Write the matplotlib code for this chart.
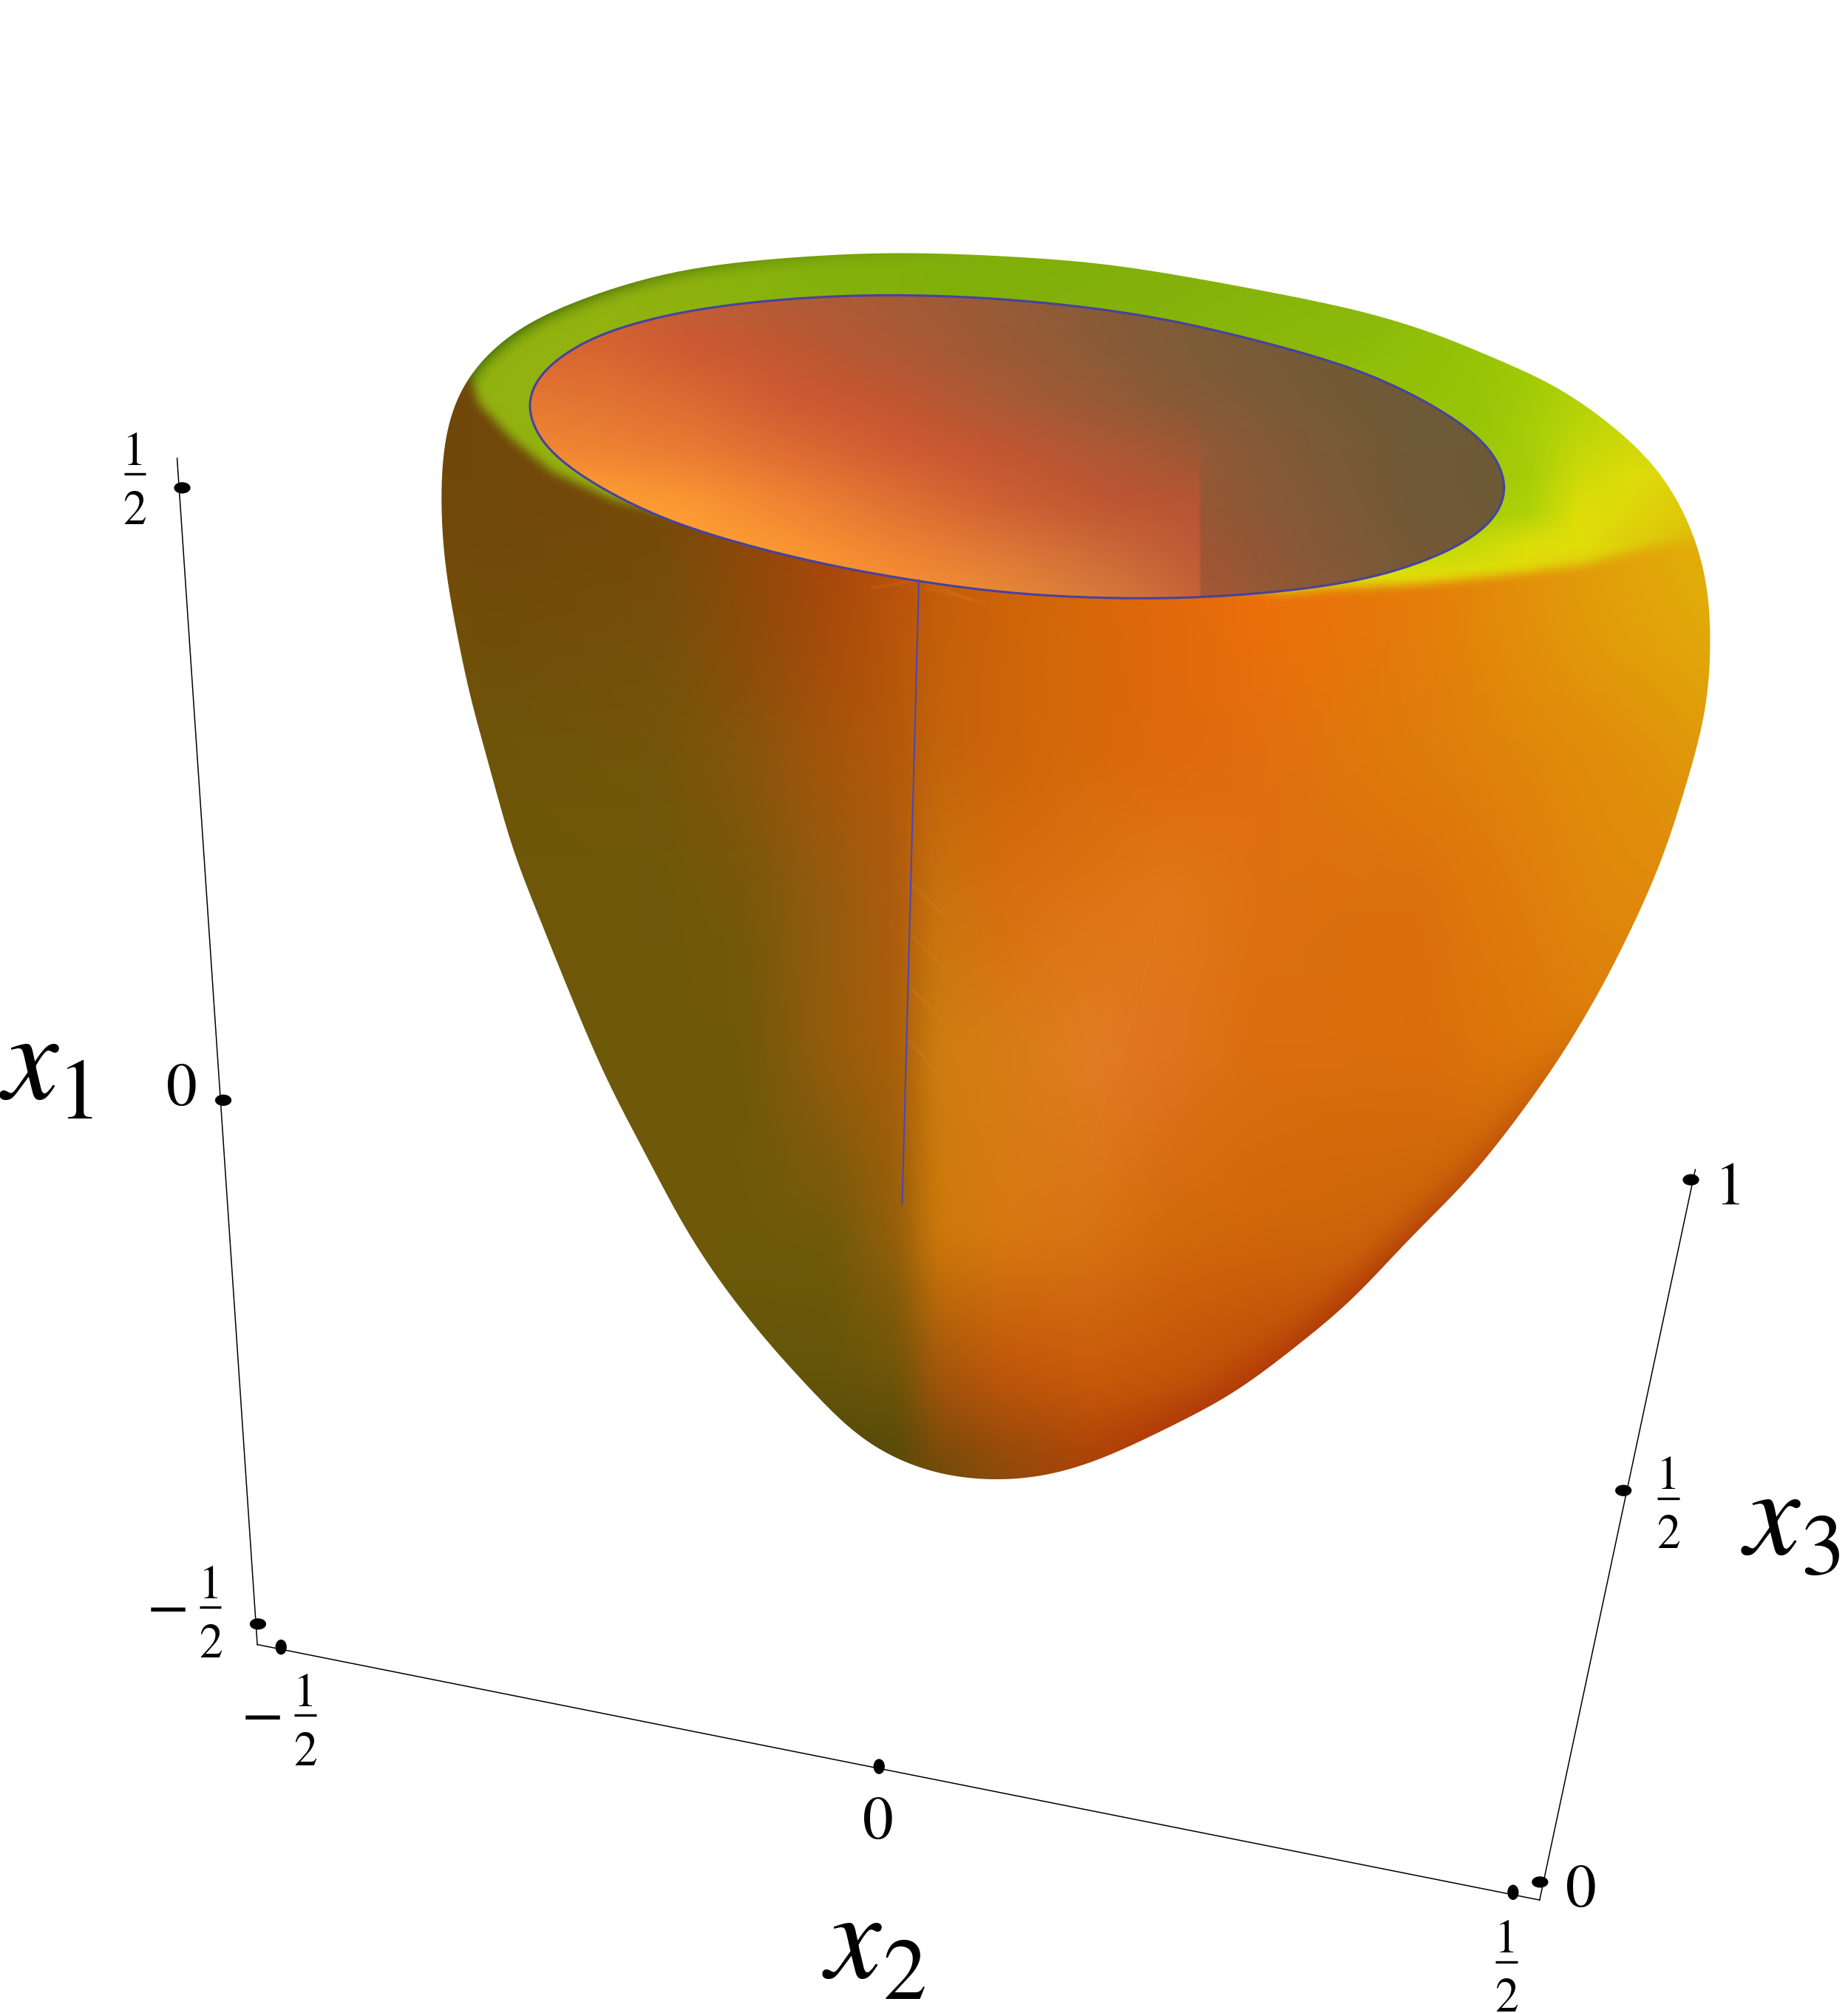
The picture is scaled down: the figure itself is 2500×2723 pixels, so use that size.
import numpy as np
import matplotlib
matplotlib.use("Agg")
import matplotlib.pyplot as plt
from matplotlib.path import Path
from matplotlib.patches import Ellipse, PathPatch

# ---- outline of the surface (1440 x 1568 frame)
outer_x = [611,693,790,885,1037,1110,1162,1213,1257,1290,1312,1328,1333,1331,1324,1297,1269,1242,1206,1150,1101,1058,1037,993,955,890,852,814,783,744,711,685,659,643,610,572,537,502,471,440,422,400,383,365,352,347,344,344,349,361,380,405,438,476,515,553]
outer_y = [201,197,200,209,237,257,278,301,332,363,398,442,488,539,576,664,728,780,838,912,962,1008,1027,1062,1089,1122,1139,1150,1153,1151,1142,1130,1111,1094,1059,1013,962,897,837,764,719,663,603,537,472,443,405,367,328,298,275,255,239,225,214,207]
bowl_x = [1172,1159,1121,1061,982,891,792,694,603,524,464,426,413,426,464,524,603,694,792,891,982,1061,1121,1159]
bowl_y = [380,408,432,451,462,466,462,449,430,406,377,347,316,288,263,245,234,230,234,246,266,290,319,349]
lip_x = [330,1345,1345,1279,1235,1169,1103,1037,1000,800,600,476,430,399,374,365,330]
lip_y = [180,180,415,428,440,448,455,458,462,440,420,388,367,342,315,292,270]

# ---- colours sampled over the surface
body_cols = [340,383,515,581,648,700,730,780,850,912,978,1110,1242,1340]
body_rows = [400,493,587,700,817,964,1074,1129,1155]
body_rgb = [
 [(112,72,10),(112,72,10),(118,74,10),(140,72,10),(168,70,12),(185,80,10),(195,90,10),(210,95,10),(220,100,10),(230,105,10),(238,110,10),(230,125,10),(226,160,10),(225,180,10)],
 [(115,80,10),(112,78,10),(118,80,10),(140,75,10),(168,75,10),(185,85,10),(195,95,10),(205,100,10),(215,105,10),(225,105,10),(235,110,10),(228,125,10),(225,155,10),(225,170,10)],
 [(110,85,10),(110,85,10),(115,85,10),(135,85,12),(165,85,10),(180,90,10),(195,100,10),(205,100,10),(215,105,10),(222,105,10),(225,110,15),(222,125,10),(225,140,10),(225,155,10)],
 [(110,88,10),(110,88,10),(110,88,10),(120,88,10),(150,92,15),(175,92,15),(200,115,15),(215,110,15),(222,115,20),(225,120,25),(222,112,15),(220,112,12),(225,135,12),(225,140,12)],
 [(110,88,10),(110,88,10),(110,88,10),(112,88,10),(150,92,12),(170,95,10),(205,125,15),(215,125,20),(225,125,35),(225,115,30),(220,110,15),(220,110,10),(220,125,10),(220,130,10)],
 [(110,90,10),(110,90,10),(110,90,10),(110,90,10),(112,90,10),(150,95,10),(205,120,10),(215,120,15),(215,115,20),(210,105,12),(208,102,10),(200,100,10),(200,100,10),(200,100,10)],
 [(100,85,10),(100,85,10),(100,85,10),(100,85,10),(100,85,10),(110,85,10),(160,85,10),(190,85,10),(200,90,10),(195,85,8),(190,75,8),(185,70,8),(175,60,8),(175,60,8)],
 [(85,75,10),(85,75,10),(85,75,10),(85,75,10),(85,75,10),(88,75,10),(125,75,10),(150,75,10),(175,70,8),(175,60,8),(170,58,8),(170,58,8),(170,58,8),(170,58,8)],
 [(85,75,10),(85,75,10),(85,75,10),(85,75,10),(85,75,10),(88,75,10),(110,75,10),(140,75,10),(165,70,8),(170,60,8),(170,58,8),(170,58,8),(170,58,8),(170,58,8)],
]
lip_cols = [340,400,480,600,750,900,1050,1100,1150,1190,1230,1270,1340]
lip_rows = [195,260,330,370,400,425,450]
lip_rgb = [
 [(145,178,15),(145,178,15),(145,178,15),(135,178,12),(128,175,10),(130,176,10),(135,180,10),(140,185,10),(145,190,10),(150,195,5),(155,198,5),(160,200,5),(165,205,5)],
 [(145,178,15),(145,178,15),(145,178,15),(138,178,12),(130,175,10),(135,180,10),(140,185,10),(145,190,10),(150,195,5),(155,200,5),(165,205,5),(175,208,5),(185,212,5)],
 [(145,178,15),(145,178,15),(150,180,15),(150,180,10),(150,185,10),(150,190,10),(150,195,5),(150,195,5),(152,197,8),(165,205,8),(185,212,8),(200,215,8),(205,210,8)],
 [(145,178,15),(145,178,15),(150,180,15),(150,185,10),(152,190,10),(155,195,10),(155,198,8),(155,198,8),(160,200,8),(165,205,8),(205,218,8),(222,220,10),(222,205,10)],
 [(145,178,15),(145,178,15),(150,180,15),(150,185,10),(155,190,10),(160,195,10),(160,200,8),(165,203,8),(165,205,8),(175,210,8),(222,222,10),(222,215,10),(222,190,10)],
 [(145,178,15),(145,178,15),(150,180,15),(160,190,10),(170,195,10),(170,205,10),(175,210,8),(190,215,8),(200,218,8),(222,222,10),(225,222,10),(222,205,10),(222,180,10)],
 [(145,178,15),(145,178,15),(150,180,15),(170,190,10),(180,200,10),(190,210,10),(220,222,10),(225,222,10),(226,222,10),(226,218,10),(225,200,10),(225,185,10),(225,175,10)],
]
bowl_cols = [413,470,540,620,700,780,860,934,936,1020,1100,1175]
bowl_rows = [230,270,310,350,390,430,470]
bowl_rgb = [
 [(205,95,50),(205,95,50),(190,95,53),(175,92,55),(165,90,55),(150,92,55),(135,92,55),(125,92,55),(125,92,55),(115,90,55),(110,90,55),(110,90,55)],
 [(215,100,50),(215,100,50),(205,88,50),(190,88,50),(172,90,52),(155,90,55),(138,92,55),(125,92,55),(125,92,55),(115,90,55),(110,90,55),(110,90,55)],
 [(228,120,50),(225,115,50),(218,105,50),(205,88,50),(192,86,50),(170,90,53),(150,90,55),(132,90,55),(132,90,55),(118,90,55),(110,90,55),(110,90,55)],
 [(240,135,50),(238,130,50),(232,122,50),(222,105,50),(208,90,50),(193,85,50),(175,88,52),(155,88,52),(148,90,55),(125,90,55),(112,90,55),(110,90,55)],
 [(255,160,50),(255,160,50),(250,150,50),(238,130,50),(222,112,50),(205,95,50),(190,85,50),(182,85,50),(150,88,52),(130,90,55),(112,90,55),(110,90,55)],
 [(255,165,50),(255,165,50),(255,165,50),(250,150,50),(238,132,50),(222,120,55),(205,105,55),(190,90,55),(160,85,52),(135,88,55),(118,90,55),(110,90,55)],
 [(255,165,50),(255,165,50),(255,165,50),(255,160,50),(250,150,50),(235,140,55),(215,125,60),(200,100,55),(165,88,52),(140,90,55),(120,90,55),(110,90,55)],
]
seam_x = [716,703]
seam_y = [452,938]
ripple_x = [[680,716],[716,755],[722,768],[712,735],[712,738],[710,735],[708,730]]
ripple_y = [[458,452],[452,466],[458,470],[690,712],[730,755],[770,795],[810,835]]
crease_x = [905,880,850]
crease_y = [715,800,890]

# ---- axes frame
axis_x1_x = [138,200.5]; axis_x1_y = [357,1281]
axis_x2_x = [200.5,1199.7]; axis_x2_y = [1281,1480]
axis_x3_x = [1199.7,1321]; axis_x3_y = [1480,911]
ticks_tall_x = [219,685,1179]; ticks_tall_y = [1283,1376,1474]
ticks_wide_x = [142,174,201,1200,1265,1317.6]; ticks_wide_y = [380,857,1265,1466,1161,919]

W, H = 1440, 1568
SERIF = "STIXGeneral"


def smooth(xs, ys, n=14):
    p = np.column_stack([xs, ys]).astype(float)
    out = []
    m = len(p)
    for i in range(m):
        p0, p1, p2, p3 = p[(i-1) % m], p[i], p[(i+1) % m], p[(i+2) % m]
        for t in np.linspace(0, 1, n, endpoint=False):
            out.append(0.5*((2*p1)+(p2-p0)*t+(2*p0-5*p1+4*p2-p3)*t**2+(3*p1-p0-3*p2+p3)*t**3))
    out = np.array(out)
    return np.vstack([out, out[:1]])


def relax(curve, step=2.0, half=12, passes=2):
    s = np.r_[0, np.cumsum(np.hypot(*np.diff(curve, axis=0).T))]
    t = np.arange(0, s[-1], step)
    pts = np.column_stack([np.interp(t, s, curve[:, 0]), np.interp(t, s, curve[:, 1])])
    k = np.ones(2*half+1)/(2*half+1)
    for _ in range(passes):
        wrapped = np.vstack([pts[-half:], pts, pts[:half]])
        pts = np.column_stack([np.convolve(wrapped[:, 0], k, "valid"), np.convolve(wrapped[:, 1], k, "valid")])
    return np.vstack([pts, pts[:1]])


def field(cols, rows, rgb, xx, yy):
    g = np.array(rgb, float)
    a = np.stack([np.stack([np.interp(xx, cols, g[r, :, c]) for r in range(len(rows))]) for c in range(3)], axis=-1)
    return np.stack([np.stack([np.interp(yy, rows, a[:, j, c]) for j in range(len(xx))], axis=1) for c in range(3)], axis=-1) / 255.0


def box(a, r, axis):
    pad = [(0, 0), (0, 0)]
    pad[axis] = (r+1, r)
    c = np.cumsum(np.pad(a, pad, mode="edge"), axis=axis)
    if axis == 0:
        return (c[2*r+1:, :] - c[:-(2*r+1), :])/(2*r+1)
    return (c[:, 2*r+1:] - c[:, :-(2*r+1)])/(2*r+1)


def blur(a, ry, rx, passes=2):
    for _ in range(passes):
        a = box(box(a, ry, 0), rx, 1)
    return a


xx = np.arange(0, W, 1.0) + 0.5
yy = np.arange(0, H, 1.0) + 0.5
X, Y = np.meshgrid(xx, yy)
grid = np.column_stack([X.ravel(), Y.ravel()])

outer = relax(smooth(outer_x, outer_y))
bowl_pts = smooth(bowl_x, bowl_y)
outer_mask = Path(outer).contains_points(grid).reshape(X.shape).astype(float)

body = field(body_cols, body_rows, body_rgb, xx, yy)
for c in range(3):
    body[:, :, c] = blur(body[:, :, c], 14, 7)
lip = field(lip_cols, lip_rows, lip_rgb, xx, yy)
bowl = field(bowl_cols, bowl_rows, bowl_rgb, xx, yy)
for c in range(3):
    bowl[:, :, c] = box(box(bowl[:, :, c], 10, 0), 8, 0)

# darker band along the silhouette: left part of the lip, lower right of the body
edge_lip = 1 - blur(outer_mask, 7, 7)
w_lip = np.clip(2*edge_lip, 0, 1)*np.clip((760-X)/350, 0, 1)
edge_low = 1 - blur(outer_mask, 18, 18)
w_low = np.clip(2*edge_low, 0, 1)*np.clip((Y-780)/220, 0, 1)*np.clip((X-800)/120, 0, 1)
dark_lip = np.array([85, 125, 10])/255
dark_low = np.array([178, 60, 8])/255
lip = lip*(1-w_lip[..., None]) + dark_lip*w_lip[..., None]
body = body*(1-0.9*w_low[..., None]) + dark_low*0.9*w_low[..., None]

lip_path = Path(np.column_stack([lip_x + lip_x[:1], lip_y + lip_y[:1]]))
mask = lip_path.contains_points(grid).reshape(X.shape).astype(float)
mask = blur(mask, 4, 4)
surface = body*(1-mask[..., None]) + lip*mask[..., None]

fig = plt.figure(figsize=(25, 27.23), dpi=100, facecolor="white")
ax = fig.add_axes([0, 0, 1, 1])
ax.set_xlim(0, W)
ax.set_ylim(H, 0)
ax.axis("off")

im = ax.imshow(surface, extent=(0, W, H, 0), interpolation="bilinear", aspect="auto", zorder=2)
im.set_clip_path(PathPatch(Path(outer), transform=ax.transData))
im2 = ax.imshow(bowl, extent=(0, W, H, 0), interpolation="bilinear", aspect="auto", zorder=3)
im2.set_clip_path(PathPatch(Path(bowl_pts), transform=ax.transData))
ax.set_xlim(0, W)
ax.set_ylim(H, 0)

for rx, ry in zip(ripple_x, ripple_y):
    ax.plot(rx, ry, color="#e49a30", lw=3.0, alpha=0.13, zorder=2.5)
ax.plot(crease_x, crease_y, color="#e88a30", lw=1.2, alpha=0.25, zorder=2.5)
ax.plot(bowl_pts[:, 0], bowl_pts[:, 1], color="#46429f", lw=2.2, zorder=4)
ax.plot(seam_x, seam_y, color="#4a48b4", lw=1.5, zorder=4)

for lx, ly in [(axis_x1_x, axis_x1_y), (axis_x2_x, axis_x2_y), (axis_x3_x, axis_x3_y)]:
    ax.plot(lx, ly, color="black", lw=1.1, zorder=5, solid_joinstyle="miter")
for tx, ty in zip(ticks_tall_x, ticks_tall_y):
    ax.add_patch(Ellipse((tx, ty), 8, 11, color="black", zorder=6))
for tx, ty in zip(ticks_wide_x, ticks_wide_y):
    ax.add_patch(Ellipse((tx, ty), 12, 8, color="black", zorder=6))


def label(x, y, s, size, **kw):
    ax.text(x, y, s, fontsize=size, family=SERIF, va="baseline", color="black", zorder=7, **kw)


def frac(xc, ybar, minus_center=None):
    label(xc, ybar-7, "1", 46, ha="center")
    label(xc, ybar+39, "2", 46, ha="center")
    ax.plot([xc-8.5, xc+8.5], [ybar, ybar], color="black", lw=2.4, zorder=7, solid_capstyle="butt")
    if minus_center is not None:
        label(minus_center, ybar+13.5, "\u2212", 60, ha="center")


frac(105, 369)
frac(164, 1252, 131)
frac(238, 1336, 204.5)
frac(1174, 1528)
frac(1300, 1167)

label(141.5, 861, "0", 60, ha="center")
label(684, 1432, "0", 60, ha="center")
label(1232, 1485, "0", 60, ha="center")
label(1348, 938, "1", 60, ha="center")


def axis_name(xc, y, sub, xs, ys):
    label(xc, y, "x", 122, style="italic", ha="center")
    label(xs, ys, sub, 85, ha="center")


axis_name(24, 856, "1", 62, 871)
axis_name(665, 1541, "2", 705, 1557)
axis_name(1381, 1211, "3", 1420, 1226)

fig.savefig("out.png", dpi=100, facecolor="white")
